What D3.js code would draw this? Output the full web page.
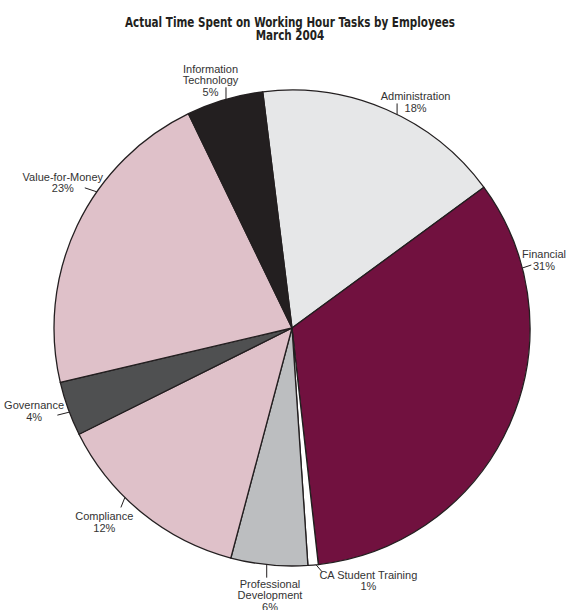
<!DOCTYPE html>
<html>
<head>
<meta charset="utf-8">
<script src="https://cdn.jsdelivr.net/npm/d3@7"></script>
<style>
  body { margin: 0; background: #fff; }
  svg { display: block; }
</style>
</head>
<body>
<div id="chart-div"></div>
<script>
// slice data, clockwise from the top (share of the circle as drawn)
const categories = ['Administration', 'Financial', 'CA Student Training', 'Professional Development',
  'Compliance', 'Governance', 'Value-for-Money', 'Information Technology'];
const values = [16.9, 33.3, 0.7, 5.2, 13.5, 3.7, 21.5, 5.2];
const percentLabels = ['18%', '31%', '1%', '6%', '12%', '4%', '23%', '5%'];
const labelLines = [
  ['Administration'], ['Financial'], ['CA Student Training'], ['Professional', 'Development'],
  ['Compliance'], ['Governance'], ['Value-for-Money'], ['Information', 'Technology']
];
const titleLines = ['Actual Time Spent on Working Hour Tasks by Employees', 'March 2004'];

// styles / layout, kept apart from the data
const colors = ['#e6e7e8', '#71113f', '#ffffff', '#bcbec0', '#dfc1c9', '#4f5051', '#dfc1c9', '#231f20'];
// where each label hangs: angle on the rim (deg), leader end offset, text offset
const labelLayout = [
  { angle: 26.2, leader: [0, -11], text: [18.5, -14] },
  { angle: 75.4, leader: [9, -3], text: [21.7, -10] },
  { angle: 174.2, leader: [6, 7], text: [52.3, 14.2] },
  { angle: 186.1, leader: [0, 13], text: [3.3, 23.3] },
  { angle: 224.6, leader: [-4, 10], text: [-20.6, 23] },
  { angle: 249.3, leader: [-12, 3], text: [-35.3, -3] },
  { angle: 304.9, leader: [-12, -4], text: [-34, -11] },
  { angle: 343.9, leader: [0, -12], text: [-15.5, -26.5] }
];

const width = 566;
const height = 610;
const cx = 292;
const cy = 328;
const radius = 238;
const lineH = 11.5;
const startDeg = -7.07;
const titleWidth = 330; // the title font in the original is a condensed face

const svg = d3.select('#chart-div').append('svg')
  .attr('width', width)
  .attr('height', height);

// title
const titleTexts = svg.append('g').selectAll('text')
  .data(titleLines)
  .enter()
  .append('text')
  .attr('x', 290)
  .attr('y', (d, i) => 27 + i * 13.2)
  .attr('text-anchor', 'middle')
  .attr('font-family', '"DejaVu Sans Condensed", "DejaVu Sans", sans-serif')
  .attr('font-weight', 'bold')
  .attr('font-size', 13.5)
  .attr('fill', '#231f20')
  .text(d => d);

// squeeze the glyphs so the first line gets the original's width
const natural = titleTexts.nodes().map(n => n.getComputedTextLength());
const squeeze = titleWidth / natural[0];
titleTexts
  .attr('textLength', (d, i) => natural[i] * squeeze)
  .attr('lengthAdjust', 'spacingAndGlyphs');

const pie = d3.pie()
  .sort(null)
  .value(d => d)
  .startAngle(startDeg * Math.PI / 180)
  .endAngle(startDeg * Math.PI / 180 + 2 * Math.PI);

const arc = d3.arc().innerRadius(0).outerRadius(radius);

const rootG = svg.append('g').attr('transform', `translate(${cx},${cy})`);

rootG.selectAll('path')
  .data(pie(values))
  .enter()
  .append('path')
  .attr('d', arc)
  .attr('fill', (d, i) => colors[i])
  .attr('stroke', '#231f20')
  .attr('stroke-width', 1.3)
  .attr('stroke-linejoin', 'round');

// labels with short leader lines
const rimPoint = deg => {
  const a = deg * Math.PI / 180;
  return [radius * Math.sin(a), -radius * Math.cos(a)];
};

const labelG = rootG.append('g');
categories.forEach((cat, i) => {
  const lay = labelLayout[i];
  const p = rimPoint(lay.angle);
  labelG.append('line')
    .attr('x1', p[0])
    .attr('y1', p[1])
    .attr('x2', p[0] + lay.leader[0])
    .attr('y2', p[1] + lay.leader[1])
    .attr('stroke', '#231f20')
    .attr('stroke-width', 1);

  const lines = labelLines[i].concat([percentLabels[i]]);
  labelG.append('text')
    .attr('text-anchor', 'middle')
    .attr('font-family', '"Liberation Sans", Arial, sans-serif')
    .attr('font-size', 11)
    .attr('fill', '#333')
    .selectAll('tspan')
    .data(lines)
    .enter()
    .append('tspan')
    .attr('x', p[0] + lay.text[0])
    .attr('y', (d, j) => p[1] + lay.text[1] + j * lineH)
    .text(d => d);
});
</script>
</body>
</html>
